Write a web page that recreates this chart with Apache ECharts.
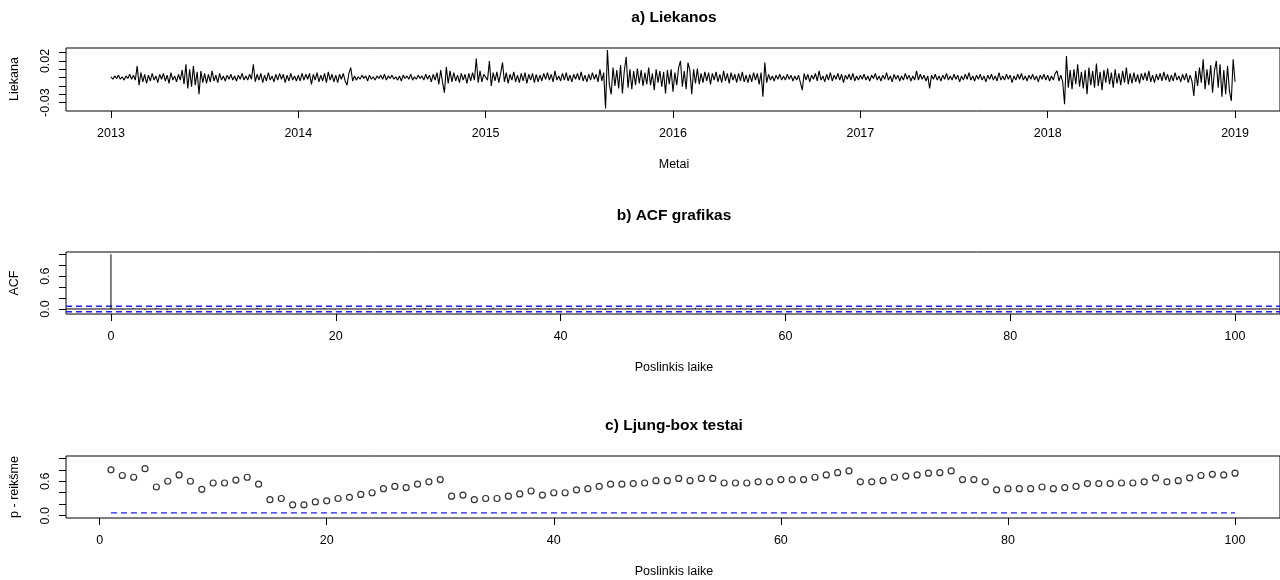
<!DOCTYPE html>
<html>
<head>
<meta charset="utf-8">
<script src="https://cdn.jsdelivr.net/npm/echarts@6/dist/echarts.min.js"></script>
<style>
  html, body { margin: 0; padding: 0; background: #fff; }
  #chart { width: 1280px; height: 580px; }
</style>
</head>
<body>
<div id="chart"></div>
<script>
// Model residuals per year, in thousandths, sampled evenly through each year
const res2013 = [1,-2,2,-1,3,-2,1,-3,2,-1,4,-2,3,-3,14,-9,6,-5,4,-7,3,-4,5,-3,2,-6,4,-2,5,-4,3,-7,6,-3,2,-5,4,-3,9,-8,16,-13,10,-11,14,-9,7,-20,8,-6,5,-7,4,-5,8,-4,3,-6,5,-3,2,-4,3,-2,4,-3,2,-4,3,-2,5,-3,2,-3,4,-2,16,-5,4,-3,5,-6,3,-4,6,-3,2,-5,4,-3,5,-2,4,-6,3,-4,5,-3,2,-4];
const res2014 = [3,-4,5,-3,4,-2,5,-8,4,-3,6,-5,3,-4,5,-6,7,-3,4,-5,3,-6,4,-2,5,-4,-9,5,12,-4,2,-3,1,-2,3,-1,2,-4,3,-2,1,-3,2,-1,3,-2,4,-3,2,-1,3,-2,1,-3,2,-4,3,-1,2,-2,4,-3,1,-2,3,-1,2,-3,4,-2,3,-5,4,-3,6,-8,9,-6,-18,13,-7,8,-5,6,-4,3,-6,5,-3,4,-7,5,-4,6,-3,23,-6,8,-5,4];
const res2015 = [4,-3,20,-10,6,-4,7,-6,5,18,-5,6,-7,4,-3,7,-5,3,-6,5,-4,6,-7,4,-3,5,-6,4,-5,3,-4,5,-2,6,-3,4,-5,8,-3,2,-4,5,-3,6,-4,3,-5,4,-2,5,-3,7,-4,3,-5,4,-3,6,-2,4,-5,10,-4,6,-37,33,-8,-20,12,-10,9,-13,15,-19,8,25,-12,10,-14,8,-9,11,-7,9,-10,6,-8,12,-9,5,-15,10,-6,8,-11,7,-19,9,-8,10];
const res2016 = [-17,6,-9,12,20,-11,8,-14,18,9,-20,10,-7,11,-8,5,-6,7,-4,6,-8,5,-3,7,-5,4,-6,8,-4,5,-7,6,-3,4,-6,5,-4,7,-5,3,-6,4,-5,6,-3,5,-8,6,-23,18,-6,4,-3,2,-4,3,-2,4,-3,2,-3,4,-2,3,-4,2,-3,3,4,-15,5,-3,4,-5,3,-2,5,-4,8,-3,2,-5,4,-3,6,-4,3,-2,5,-3,4,-6,3,-2,4,-3,5,-4,2,-3];
const res2017 = [3,-2,4,-3,2,-4,3,-1,5,-3,2,-4,3,-2,6,-3,2,-5,4,-2,3,-4,2,-3,5,-2,3,-4,2,-3,8,-3,4,-2,3,-4,2,-13,3,-2,4,-3,2,-4,3,-2,5,-3,2,-3,4,-2,3,-5,2,-3,4,-2,6,-3,2,-4,3,-2,4,-3,2,-5,3,-2,4,-3,2,-4,6,-3,2,-3,4,-2,3,-6,2,-3,4,-2,5,-3,2,-4,3,-2,4,-3,2,-5,3,-2,4,-3];
const res2018 = [3,-4,2,-3,5,8,-4,3,-5,-32,26,-12,9,-14,10,-8,16,-11,7,-13,9,-20,12,-9,8,-12,17,-10,7,-15,9,-6,11,-8,6,-12,10,-7,5,-9,8,-6,12,-8,5,-7,6,-5,4,-7,5,-3,6,-4,8,-5,3,-6,4,-3,5,-4,7,-3,4,-5,3,-4,6,-3,2,-5,4,-3,5,-6,3,-4,-22,8,-10,12,-6,22,-14,10,-9,15,-18,8,20,-12,16,-23,9,-20,14,-16,-28,22];
const res2019 = [-5];

// Sample autocorrelation of the residuals, lags 0..100
const acfValues = [1,
  -0.008,0.015,-0.012,0.021,-0.025,0.010,-0.014,0.018,0.006,-0.020,
  0.012,-0.009,0.024,-0.016,-0.022,0.011,0.008,-0.013,0.017,-0.010,
  0.014,-0.006,0.019,-0.021,0.009,-0.012,0.016,0.022,-0.015,-0.008,
  0.013,-0.018,0.010,0.025,-0.011,0.007,-0.019,0.014,-0.009,0.012,
  0.020,-0.014,0.008,-0.017,0.011,0.015,-0.010,-0.023,0.018,0.009,
  -0.012,0.021,-0.016,0.010,-0.007,0.013,-0.020,0.017,0.008,-0.011,
  0.015,-0.013,0.022,0.009,-0.018,0.012,-0.008,0.016,-0.024,0.011,
  0.014,-0.009,0.019,-0.015,0.007,-0.012,0.010,0.023,-0.017,0.013,
  -0.010,0.008,-0.021,0.015,-0.006,0.018,0.011,-0.014,0.009,-0.019,
  0.016,-0.011,0.012,-0.008,0.020,-0.013,0.007,-0.016,0.014,-0.010];

// Ljung-Box p-values, lags 1..100
const ljungP = [
  0.80,0.70,0.67,0.82,0.50,0.60,0.71,0.60,0.46,0.57,
  0.57,0.62,0.67,0.55,0.28,0.30,0.19,0.19,0.24,0.26,
  0.30,0.32,0.37,0.40,0.47,0.51,0.49,0.55,0.59,0.63,
  0.34,0.36,0.28,0.30,0.30,0.34,0.38,0.43,0.36,0.40,
  0.40,0.45,0.47,0.51,0.55,0.55,0.56,0.57,0.61,0.61,
  0.65,0.61,0.65,0.65,0.57,0.57,0.57,0.59,0.59,0.63,
  0.63,0.63,0.67,0.71,0.75,0.78,0.59,0.59,0.61,0.67,
  0.69,0.71,0.74,0.75,0.78,0.63,0.63,0.59,0.45,0.47,
  0.47,0.47,0.50,0.47,0.49,0.51,0.56,0.56,0.56,0.57,
  0.57,0.59,0.66,0.59,0.61,0.66,0.70,0.72,0.71,0.74];

const yearTicks = [2013, 2014, 2015, 2016, 2017, 2018, 2019];
const lagTicks = [0, 20, 40, 60, 80, 100];
const residTicks = [-0.03, -0.02, -0.01, 0, 0.01, 0.02, 0.03];
const residLabels = [-0.03, 0.02];
const unitTicks = [0, 0.2, 0.4, 0.6, 0.8, 1.0];
const unitLabels = [0, 0.6];
const acfBound = 0.0504;   // 1.96 / sqrt(n)
const pLevel = 0.05;

// Axis ranges (data range padded by 4%)
const yearRange = [2012.76, 2019.24];
const acfLagRange = [-4, 104];
const lbLagRange = [-2.96, 103.96];

const FONT = '"Liberation Sans", Arial, Helvetica, sans-serif';
const BLUE = '#1f1fff';

function residualPoints() {
  const years = [[2013, res2013], [2014, res2014], [2015, res2015], [2016, res2016],
                 [2017, res2017], [2018, res2018], [2019, res2019]];
  const pts = [];
  years.forEach(([yr, arr]) => {
    arr.forEach((v, i) => pts.push([yr + i / arr.length, v / 1000]));
  });
  return pts;
}

const acfPoints = acfValues.map((v, lag) => [lag, v]);
const ljungPoints = ljungP.map((p, i) => [i + 1, p]);

const boxes = [
  { top: 48, height: 63 },
  { top: 252, height: 62 },
  { top: 456, height: 62 }
];
const LEFT = 66, WIDTH = 1216;

function xAxisFor(gridIndex, range, ticks) {
  return {
    gridIndex, type: 'value', min: range[0], max: range[1], position: 'bottom',
    axisLine: { show: false, onZero: false },
    axisTick: { show: true, customValues: ticks, length: 7, lineStyle: { color: '#000', width: 1 } },
    axisLabel: { customValues: ticks, margin: 16, fontSize: 12.5, color: '#000', fontFamily: FONT,
                 formatter: v => String(v) },
    splitLine: { show: false }
  };
}
function yAxisFor(gridIndex, min, max, ticks, labels, fmt) {
  return {
    gridIndex, type: 'value', min, max, position: 'left',
    axisLine: { show: false, onZero: false },
    axisTick: { show: true, customValues: ticks, length: 7, lineStyle: { color: '#000', width: 1 } },
    axisLabel: { customValues: labels, rotate: 90, margin: 14, fontSize: 12.5, color: '#000',
                 fontFamily: FONT, formatter: fmt },
    splitLine: { show: false }
  };
}

// Horizontal reference line drawn as a two-point line series
function hLine(gridIdx, x0, x1, y, color, dashed) {
  return {
    type: 'line', xAxisIndex: gridIdx, yAxisIndex: gridIdx,
    data: [[x0, y], [x1, y]], symbol: 'none', silent: true, z: 3,
    lineStyle: { color, width: dashed ? 1.4 : 1, type: dashed ? [6, 4] : 'solid' }
  };
}

function text(x, y, str, opts) {
  return Object.assign({
    type: 'text', x, y,
    style: Object.assign({ text: str, fill: '#000', fontSize: 12.5, fontFamily: FONT,
                           align: 'center', verticalAlign: 'middle' }, (opts && opts.style) || {})
  }, (opts && opts.rotation !== undefined) ? { rotation: opts.rotation } : {});
}

const cx = LEFT + WIDTH / 2;
const titleStyle = { style: { fontSize: 15.5, fontWeight: 'bold' } };
const vert = { rotation: Math.PI / 2 };

const option = {
  animation: false,
  backgroundColor: '#fff',
  grid: boxes.map(b => ({ left: LEFT, width: WIDTH, top: b.top, height: b.height,
                         show: true, borderColor: '#000', borderWidth: 1, backgroundColor: 'transparent' })),
  xAxis: [
    xAxisFor(0, yearRange, yearTicks),
    xAxisFor(1, acfLagRange, lagTicks),
    xAxisFor(2, lbLagRange, lagTicks)
  ],
  yAxis: [
    yAxisFor(0, -0.0400, 0.0355, residTicks, residLabels, v => v.toFixed(2)),
    yAxisFor(1, -0.092, 1.042, unitTicks, unitLabels, v => v.toFixed(1)),
    yAxisFor(2, -0.04, 1.04, unitTicks, unitLabels, v => v.toFixed(1))
  ],
  graphic: [
    text(cx, 18, 'a) Liekanos', titleStyle),
    text(cx, 216, 'b) ACF grafikas', titleStyle),
    text(cx, 426, 'c) Ljung-box testai', titleStyle),
    text(cx, 165, 'Metai'),
    text(cx, 368, 'Poslinkis laike'),
    text(cx, 572, 'Poslinkis laike'),
    text(15, 79, 'Liekana', vert),
    text(15, 283, 'ACF', vert),
    text(15, 487, 'p - reikšme', vert)
  ],
  series: [
    {
      type: 'line', xAxisIndex: 0, yAxisIndex: 0,
      data: residualPoints(), showSymbol: false, symbol: 'none', sampling: 'none',
      lineStyle: { color: '#000', width: 1.1 }, silent: true
    },
    hLine(1, acfLagRange[0], acfLagRange[1], 0, '#000', false),
    hLine(1, acfLagRange[0], acfLagRange[1], acfBound, BLUE, true),
    hLine(1, acfLagRange[0], acfLagRange[1], -acfBound, BLUE, true),
    {
      type: 'bar', xAxisIndex: 1, yAxisIndex: 1, data: acfPoints,
      barWidth: 1, itemStyle: { color: '#000' }, silent: true, z: 4
    },
    hLine(2, 1, ljungP.length, pLevel, BLUE, true),
    {
      type: 'scatter', xAxisIndex: 2, yAxisIndex: 2, data: ljungPoints,
      symbol: 'circle', symbolSize: 6, silent: true,
      itemStyle: { color: '#fff', borderColor: '#000', borderWidth: 1.2 }
    }
  ]
};

const chart = echarts.init(document.getElementById('chart'), null, { renderer: 'canvas' });
chart.setOption(option);
</script>
</body>
</html>
